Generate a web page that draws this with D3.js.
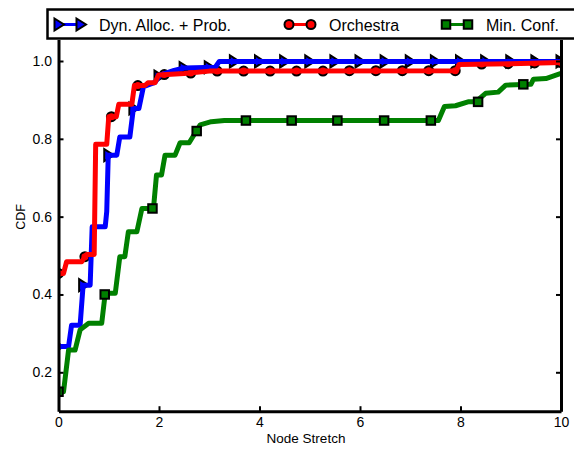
<!DOCTYPE html>
<html>
<head>
<meta charset="utf-8">
<script src="https://cdn.jsdelivr.net/npm/d3@7"></script>
<style>
  html, body { margin: 0; padding: 0; background: #fff; }
  svg { display: block; font-family: "Liberation Sans", Arial, sans-serif; }
</style>
</head>
<body>
<svg id="chart" width="574" height="449"></svg>
<script>
// Series names, in legend order
const seriesNames = ["Dyn. Alloc. + Prob.", "Orchestra", "Min. Conf."];

// CDF curves: [node stretch, cumulative fraction]
const dynAllocProb = [
  [0, 0.266], [0.2, 0.266], [0.26, 0.321], [0.43, 0.321], [0.49, 0.424],
  [0.63, 0.424], [0.67, 0.574], [0.93, 0.574], [0.96, 0.613], [0.99, 0.758],
  [1.16, 0.758], [1.22, 0.805], [1.42, 0.805], [1.49, 0.878], [1.6, 0.878],
  [1.69, 0.934], [1.92, 0.945], [2.02, 0.964], [2.3, 0.976], [2.5, 0.982],
  [3.12, 0.984], [3.2, 0.999], [10, 0.999]
];
const orchestra = [
  [0, 0.454], [0.1, 0.454], [0.16, 0.484], [0.46, 0.484], [0.56, 0.503],
  [0.71, 0.503], [0.74, 0.786], [0.96, 0.786], [1.0, 0.857], [1.15, 0.857],
  [1.2, 0.889], [1.46, 0.889], [1.51, 0.937], [1.72, 0.937], [1.78, 0.944],
  [1.92, 0.944], [1.99, 0.964], [2.5, 0.968], [3.0, 0.974], [7.92, 0.975],
  [7.97, 0.991], [9.0, 0.993], [10, 0.996]
];
const minConf = [
  [0, 0.15], [0.1, 0.15], [0.2, 0.257], [0.33, 0.257], [0.43, 0.309],
  [0.6, 0.326], [0.86, 0.326], [0.93, 0.403], [1.13, 0.403], [1.22, 0.497],
  [1.32, 0.497], [1.39, 0.561], [1.56, 0.561], [1.66, 0.621], [1.89, 0.621],
  [1.95, 0.707], [2.05, 0.707], [2.12, 0.758], [2.32, 0.758], [2.42, 0.79],
  [2.6, 0.79], [2.72, 0.815], [2.82, 0.836], [3.04, 0.844], [3.3, 0.847],
  [7.56, 0.847], [7.68, 0.883], [7.9, 0.885], [8.15, 0.895], [8.3, 0.895],
  [8.5, 0.917], [8.75, 0.92], [8.9, 0.938], [9.4, 0.94], [9.45, 0.953],
  [9.7, 0.955], [10, 0.968]
];

// Marker points placed along each curve
const dynMarkers = [
  [0, 0.266], [0.5, 0.424], [1.0, 0.758], [1.5, 0.878], [2.0, 0.96],
  [2.5, 0.982], [3.0, 0.984], [3.5, 0.999], [4.0, 0.999], [4.5, 0.999],
  [5.0, 0.999], [5.5, 0.999], [6.0, 0.999], [6.5, 0.999], [7.0, 0.999],
  [7.5, 0.999], [8.0, 0.999], [8.5, 0.999], [9.0, 0.999], [9.5, 0.999],
  [10, 0.999]
];
const orchMarkers = [
  [0, 0.454], [0.526, 0.497], [1.053, 0.857], [1.579, 0.937], [2.105, 0.965],
  [2.632, 0.969], [3.158, 0.974], [3.684, 0.974], [4.211, 0.974], [4.737, 0.974],
  [5.263, 0.974], [5.789, 0.975], [6.316, 0.975], [6.842, 0.975], [7.368, 0.975],
  [7.895, 0.975], [8.421, 0.992], [8.947, 0.993], [9.474, 0.995], [10, 0.996]
];
const minConfMarkers = [
  [0, 0.15], [0.92, 0.40], [1.87, 0.621], [2.75, 0.82], [3.73, 0.847],
  [4.64, 0.847], [5.55, 0.847], [6.48, 0.847], [7.41, 0.847], [8.35, 0.895],
  [9.25, 0.94]
];

// Axis ticks
const xTicks = [0, 2, 4, 6, 8, 10];
const yTicks = [0.2, 0.4, 0.6, 0.8, 1.0];

const colors = ["#0000ff", "#ff0000", "#008000"];

const svg = d3.select("#chart");
const plotLeft = 58.5, plotRight = 561, plotTop = 39.6, plotBottom = 411.2;

const x = d3.scaleLinear().domain([0, 10]).range([plotLeft, plotRight]);
const y = d3.scaleLinear().domain([0.1, 1.055]).range([plotBottom, plotTop]);

const line = d3.line().x(d => x(d[0])).y(d => y(d[1]));

// Marker shapes
const triPath = "M-4.5,-6L5,0L-4.5,6Z";
function drawTri(g, pts, fill) {
  g.selectAll(null).data(pts).enter().append("path")
    .attr("d", triPath)
    .attr("transform", d => `translate(${x(d[0])},${y(d[1])})`)
    .attr("fill", fill).attr("stroke", "#000").attr("stroke-width", 2)
    .attr("stroke-linejoin", "miter");
}
function drawCircle(g, pts, fill) {
  g.selectAll(null).data(pts).enter().append("circle")
    .attr("cx", d => x(d[0])).attr("cy", d => y(d[1])).attr("r", 4.5)
    .attr("fill", fill).attr("stroke", "#000").attr("stroke-width", 2);
}
function drawSquare(g, pts, fill) {
  const s = 8.5;
  g.selectAll(null).data(pts).enter().append("rect")
    .attr("x", d => x(d[0]) - s / 2).attr("y", d => y(d[1]) - s / 2)
    .attr("width", s).attr("height", s)
    .attr("fill", fill).attr("stroke", "#000").attr("stroke-width", 2);
}

// Everything inside the axes is clipped to the plot box
svg.append("defs").append("clipPath").attr("id", "plot-clip")
  .append("rect")
  .attr("x", plotLeft).attr("y", plotTop)
  .attr("width", plotRight - plotLeft).attr("height", plotBottom - plotTop);

const plot = svg.append("g").attr("clip-path", "url(#plot-clip)");

// markers of the first two series sit beneath their curves
drawTri(plot.append("g"), dynMarkers, colors[0]);
drawCircle(plot.append("g"), orchMarkers, colors[1]);

[dynAllocProb, orchestra, minConf].forEach((s, i) => {
  plot.append("path")
    .datum(s)
    .attr("d", line)
    .attr("fill", "none")
    .attr("stroke", colors[i])
    .attr("stroke-width", 5)
    .attr("stroke-linejoin", "round");
});

drawSquare(plot.append("g"), minConfMarkers, colors[2]);

// Axes
const fontSize = 14;
function styleAxis(g) {
  g.select(".domain").attr("stroke", "#000").attr("stroke-width", 3);
  g.selectAll(".tick line").attr("stroke", "#000").attr("stroke-width", 2);
  g.selectAll(".tick text").attr("fill", "#000").attr("font-size", fontSize)
    .attr("font-family", "Liberation Sans, Arial, sans-serif");
}

svg.append("g")
  .attr("transform", `translate(0,${plotBottom})`)
  .call(d3.axisBottom(x).tickValues(xTicks).tickFormat(d3.format("d"))
    .tickSizeInner(-5).tickSizeOuter(0).tickPadding(6))
  .call(styleAxis);

svg.append("g")
  .attr("transform", `translate(${plotLeft},0)`)
  .call(d3.axisLeft(y).tickValues(yTicks).tickFormat(d3.format(".1f"))
    .tickSizeInner(-5).tickSizeOuter(0).tickPadding(6.5))
  .call(styleAxis);

svg.append("g")
  .attr("transform", `translate(${plotRight},0)`)
  .call(d3.axisRight(y).tickValues(yTicks).tickFormat(() => "")
    .tickSizeInner(-5).tickSizeOuter(0))
  .call(styleAxis);

// Axis titles
svg.append("text")
  .attr("x", 306).attr("y", 443)
  .attr("text-anchor", "middle").attr("font-size", 13.5)
  .text("Node Stretch");

svg.append("text")
  .attr("transform", "translate(24.5,217) rotate(-90)")
  .attr("text-anchor", "middle").attr("font-size", 12.5)
  .text("CDF");

// Legend
const legend = svg.append("g");
legend.append("rect")
  .attr("x", 47.5).attr("y", 9.5).attr("width", 540).attr("height", 29)
  .attr("fill", "#fff").attr("stroke", "#000").attr("stroke-width", 2.5);

const legendX = [59, 289, 446];
const markerFns = [drawTri, drawCircle, drawSquare];
const ly = 24.5;
seriesNames.forEach((name, i) => {
  const g = legend.append("g");
  const x0 = legendX[i], x1 = legendX[i] + 22;
  g.append("line")
    .attr("x1", x0).attr("x2", x1).attr("y1", ly).attr("y2", ly)
    .attr("stroke", colors[i]).attr("stroke-width", 3);
  // legend markers are given in pixels, converted back to data space for the shared helpers
  const pts = [[x.invert(x0), y.invert(ly)], [x.invert(x1), y.invert(ly)]];
  markerFns[i](g, pts, colors[i]);
  g.append("text")
    .attr("x", x1 + 18).attr("y", 30.5)
    .attr("font-size", 16)
    .text(name);
});
</script>
</body>
</html>
